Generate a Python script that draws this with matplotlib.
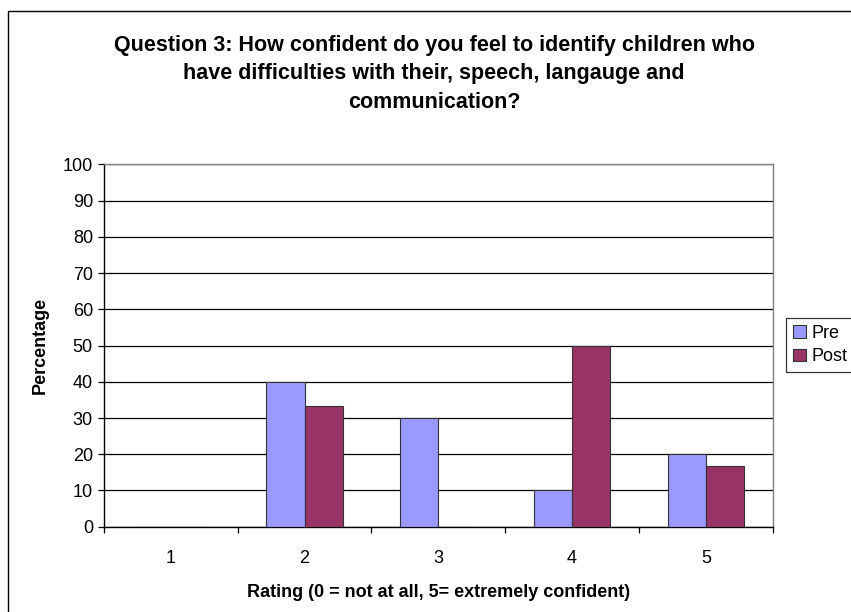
import matplotlib
matplotlib.use("Agg")
import matplotlib.pyplot as plt
import matplotlib.patches as mpatches
import numpy as np

plt.rcParams['font.family'] = ['Liberation Sans', 'DejaVu Sans']

# data
ratings = ['1', '2', '3', '4', '5']
pre = [0, 40, 30, 10, 20]
post = [0, 33.33, 0, 50, 16.67]
yticks = [0, 10, 20, 30, 40, 50, 60, 70, 80, 90, 100]

title = ("Question 3: How confident do you feel to identify children who\n"
         "have difficulties with their, speech, langauge and\n"
         "communication?")

fig = plt.figure(figsize=(8.51, 6.12), dpi=100)
ax = fig.add_axes([104/851, 1-526.7/612, (772.7-104)/851, (526.7-164.5)/612])

x = np.arange(len(ratings))
w = 0.2865
ax.bar(x - w/2, pre, w, color='#9999FF', edgecolor='#333333', linewidth=0.8, label='Pre', zorder=3)
ax.bar(x + w/2, post, w, color='#993366', edgecolor='#333333', linewidth=0.8, label='Post', zorder=3)

ax.set_xlim(-0.5, len(ratings) - 0.5)
ax.set_ylim(0, 100)
ax.set_yticks(yticks)
ax.set_yticklabels([str(t) for t in yticks], fontsize=13)
ax.yaxis.grid(True, color='black', linewidth=0.9, zorder=0)
ax.set_axisbelow(True)

# category labels centred, tick marks on the boundaries
ax.set_xticks(x)
ax.set_xticklabels(ratings, fontsize=13)
ax.tick_params(axis='x', length=0, pad=17)
ax.set_xticks(np.arange(-0.5, len(ratings)), minor=True)
ax.tick_params(axis='x', which='minor', length=4, direction='out', width=0.9)
ax.tick_params(axis='y', length=4, direction='out', width=0.9, pad=4)

for s in ['top', 'right']:
    ax.spines[s].set_color('#808080')
    ax.spines[s].set_linewidth(1)
for s in ['left', 'bottom']:
    ax.spines[s].set_color('black')
    ax.spines[s].set_linewidth(1)

ax.set_xlabel('Rating (0 = not at all, 5= extremely confident)', fontsize=13,
              fontweight='bold', labelpad=12)
ax.set_ylabel('Percentage', fontsize=13, fontweight='bold', labelpad=10)

fig.text(434/851, 1-74/612, title, ha='center', va='center', fontsize=15.5,
         fontweight='bold', linespacing=1.45)

leg = ax.legend(loc='center left', bbox_to_anchor=(786/851, 1-345/612),
                bbox_transform=fig.transFigure, fontsize=13, frameon=True,
                fancybox=False, handlelength=0.7, handleheight=0.7,
                handletextpad=0.3, borderpad=0.4, labelspacing=0.35,
                borderaxespad=0)
leg.get_frame().set_edgecolor('black')
leg.get_frame().set_linewidth(0.9)

# outer chart border (runs off the right and bottom of the image)
fig.add_artist(mpatches.Rectangle((8/851, -0.2), 2, 0.2 + 1 - 11/612,
                                  transform=fig.transFigure, fill=False,
                                  edgecolor='black', linewidth=1, clip_on=False))

fig.savefig('out.png', dpi=100)
